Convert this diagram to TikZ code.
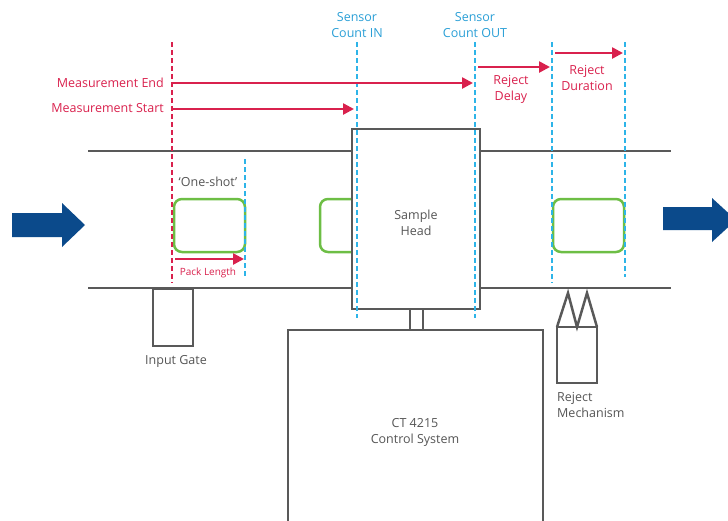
\documentclass[tikz,border=0pt]{standalone}
\usepackage{fontspec}
\setmainfont{Open Sans}
\usetikzlibrary{arrows.meta}
\definecolor{cred}{HTML}{D9214D}
\definecolor{ccyan}{HTML}{2DB4E8}
\definecolor{cgray}{HTML}{595959}
\definecolor{cgreen}{HTML}{6DBE45}
\definecolor{cnavy}{HTML}{0B4A8B}
\definecolor{ctext}{HTML}{555555}
\definecolor{csens}{HTML}{2A9FD6}
\tikzset{
  mech/.style={draw=cgray, line width=2.5pt},
  box/.style={mech, fill=white, inner sep=0pt, outer sep=0pt},
  pack/.style={draw=cgreen, line width=2.5pt, rounded corners=8pt},
  rdash/.style={draw=cred, line width=2pt, dash pattern=on 5pt off 3pt},
  bdash/.style={draw=ccyan, line width=2pt, dash pattern=on 5pt off 3pt},
  rarrow/.style={draw=cred, line width=2.5pt, -{Triangle[length=11pt,width=11pt]}},
  lbl/.style={text=ctext, font=\fontsize{12.5}{16}\selectfont, align=center, inner sep=0pt},
  rlbl/.style={lbl, text=cred},
  slbl/.style={lbl, text=csens},
  flow/.style={fill=cnavy}
}
\begin{document}
\begin{tikzpicture}[x=1pt,y=-1pt]
\useasboundingbox (0,0) rectangle (728,520);
\clip (0,0) rectangle (728,520);
% flow arrows
\fill[flow] (12,213)--(62,213)--(62,203)--(85,225)--(62,247)--(62,237)--(12,237)--cycle;
\fill[flow] (663,207)--(712,207)--(712,198)--(736,220)--(712,242)--(712,230)--(663,230)--cycle;
% conveyor rails
\coordinate (railTL) at (88,151);
\coordinate (railTR) at (671,151);
\coordinate (railBL) at (88,288);
\coordinate (railBR) at (671,288);
\draw[mech] (railTL) -- (railTR);
\draw[mech] (railBL) -- (railBR);
% packs
\draw[pack] (174,199) rectangle (245,252);
\draw[pack] (320,199) rectangle (395,252);
\draw[pack] (553,199) rectangle (624,252);
% sample head
\node[box, minimum width=128pt, minimum height=180pt] (head) at (416,219) {};
\node[lbl] (headtxt) at (416,223) {Sample\\Head};
% link to control system
\draw[mech] (410,309) -- (410,330);
\draw[mech] (423,309) -- (423,330);
% control system
\draw[mech] (288,530) -- (288,330) -- (543,330) -- (543,530);
\node[lbl] (ctrl) at (415,432) {CT 4215\\Control System};
% input gate
\node[box, minimum width=40pt, minimum height=57pt, anchor=north] (gate) at (173,289) {};
\node[lbl, anchor=north] (gatetxt) at (176,355) {Input Gate};
% reject mechanism
\node[box, minimum width=40pt, minimum height=56pt, anchor=north] (rej) at (577,327) {};
\draw[mech, line join=miter] (rej.north west) -- (568,293) -- (rej.north) -- (587,293) -- (rej.north east);
\node[lbl, align=left, anchor=north west] (rejtxt) at (557,392) {Reject\\Mechanism};
% dashed markers
\draw[rdash] (172,42) -- (172,283);
\draw[bdash] (245,159) -- (245,277);
\draw[bdash] (357,42) -- (357,318);
\draw[bdash] (475,42) -- (475,318);
\draw[bdash] (552,42) -- (552,283);
\draw[bdash] (625,42) -- (625,277);
% sensor labels
\node[slbl] (sin) at (357,25) {Sensor\\Count IN};
\node[slbl] (sout) at (475,25) {Sensor\\Count OUT};
% red arrows and labels
\node[rlbl, anchor=east] (mend) at (164,83) {Measurement End};
\node[rlbl, anchor=east] (mstart) at (164,108) {Measurement Start};
\draw[rarrow] (173,83) -- (473,83);
\draw[rarrow] (173,109) -- (354,109);
\draw[rarrow] (478,67) -- (550,67);
\draw[rarrow] (555,53) -- (623,53);
\draw[rarrow] (175,259) -- (244,259);
\node[rlbl] (rdelay) at (511,89) {Reject\\Delay};
\node[rlbl] (rdur) at (587,78) {Reject\\Duration};
\node[rlbl, font=\fontsize{10}{12}\selectfont] (plen) at (208,273) {Pack Length};
\node[lbl] (oneshot) at (208,182) {‘One-shot’};
\end{tikzpicture}
\end{document}
